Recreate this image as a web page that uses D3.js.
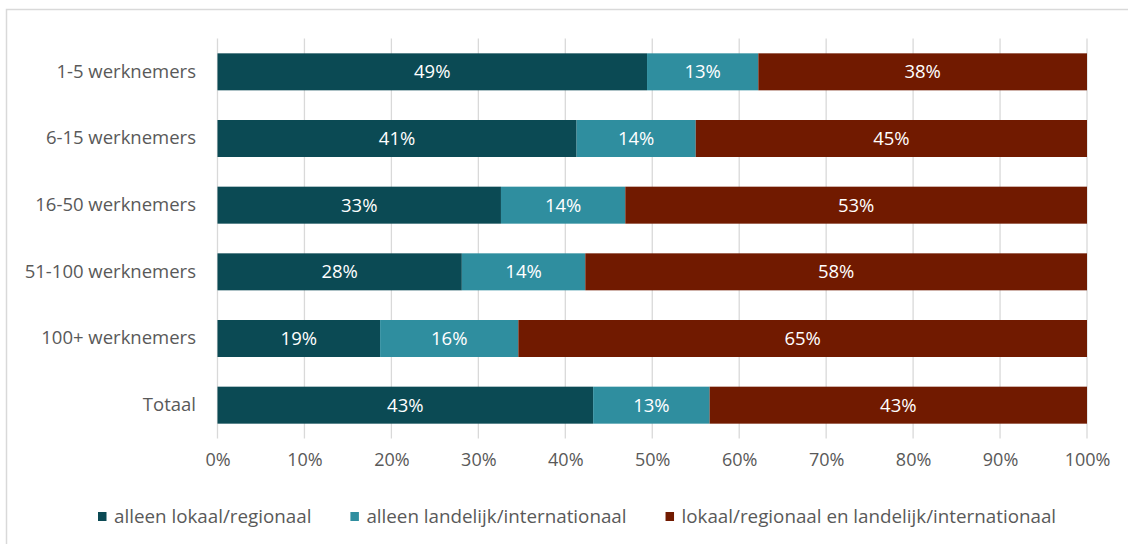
<!DOCTYPE html>
<html lang="nl">
<head>
<meta charset="utf-8">
<script src="https://cdn.jsdelivr.net/npm/d3@7"></script>
<style>
  html, body { margin: 0; padding: 0; background: #fff; }
  svg { display: block; font-family: "Open Sans", "Noto Sans", sans-serif; }
</style>
</head>
<body>
<svg id="chart" width="1128" height="544"></svg>
<script>
// Bedrijfsgrootte (aantal werknemers)
const categories = ["1-5 werknemers", "6-15 werknemers", "16-50 werknemers", "51-100 werknemers", "100+ werknemers", "Totaal"];

// Afzetmarkt, aandeel in procenten per categorie
const seriesNames = ["alleen lokaal/regionaal", "alleen landelijk/internationaal", "lokaal/regionaal en landelijk/internationaal"];
const lokaal      = [49.4, 41.3, 32.6, 28.1, 18.7, 43.2];
const landelijk   = [12.8, 13.7, 14.3, 14.2, 15.9, 13.4];
const beide       = [37.8, 45.0, 53.1, 57.7, 65.4, 43.4];

const tickValues = [0, 10, 20, 30, 40, 50, 60, 70, 80, 90, 100];
const colors = ["#0b4a54", "#2f8e9f", "#711a00"];

const rows = categories.map((c, i) => ({
  cat: c,
  [seriesNames[0]]: lokaal[i],
  [seriesNames[1]]: landelijk[i],
  [seriesNames[2]]: beide[i]
}));

const svg = d3.select("#chart");
const textColor = "#595959";
const fontSize = 18.5;

// Chart frame
svg.append("rect")
  .attr("x", 6.5).attr("y", 9.5)
  .attr("width", 1140).attr("height", 560)
  .attr("fill", "none")
  .attr("stroke", "#d9d9d9")
  .attr("stroke-width", 1.5);

const x = d3.scaleLinear().domain([0, 100]).range([217.5, 1087]);
const y = d3.scaleBand().domain(categories).range([38.5, 438.5]).paddingInner(0.445).paddingOuter(0.2225);

// Vertical gridlines
svg.append("g")
  .selectAll("line")
  .data(tickValues)
  .join("line")
  .attr("x1", d => x(d)).attr("x2", d => x(d))
  .attr("y1", y.range()[0]).attr("y2", y.range()[1])
  .attr("stroke", "#d9d9d9")
  .attr("stroke-width", 1.3);

// Stacked bars
const stack = d3.stack().keys(seriesNames)(rows);
const color = d3.scaleOrdinal().domain(seriesNames).range(colors);
const pct = d3.format(".0f");

const layers = svg.append("g")
  .selectAll("g")
  .data(stack)
  .join("g")
  .attr("fill", d => color(d.key));

layers.selectAll("rect")
  .data(d => d)
  .join("rect")
  .attr("x", d => x(d[0]))
  .attr("y", d => y(d.data.cat))
  .attr("width", d => x(d[1]) - x(d[0]))
  .attr("height", y.bandwidth());

// Value labels inside the segments
const labels = svg.append("g");
stack.forEach(layer => {
  labels.selectAll(null)
    .data(layer)
    .join("text")
    .attr("x", d => (x(d[0]) + x(d[1])) / 2)
    .attr("y", d => y(d.data.cat) + y.bandwidth() / 2)
    .attr("dy", "0.35em")
    .attr("text-anchor", "middle")
    .attr("fill", "#ffffff")
    .attr("font-size", fontSize)
    .text(d => pct(d[1] - d[0]) + "%");
});

// Category axis (left)
const yAxis = svg.append("g")
  .attr("transform", "translate(196,0)")
  .call(d3.axisLeft(y).tickSize(0).tickPadding(0));
yAxis.select(".domain").remove();
yAxis.selectAll("text")
  .attr("fill", textColor)
  .attr("font-size", fontSize)
  .attr("font-family", "Open Sans, Noto Sans, sans-serif");

// Percentage axis (bottom)
const xAxis = svg.append("g")
  .attr("transform", "translate(0,448)")
  .call(d3.axisBottom(x).tickValues(tickValues).tickFormat(d => d + "%").tickSize(0).tickPadding(0));
xAxis.select(".domain").remove();
xAxis.selectAll("text")
  .attr("fill", textColor)
  .attr("font-size", 18)
  .attr("dy", "1.0em")
  .attr("font-family", "Open Sans, Noto Sans, sans-serif");

// Legend
const legend = svg.append("g");
let lx = 98;
seriesNames.forEach((name, i) => {
  const item = legend.append("g");
  item.append("rect")
    .attr("x", lx).attr("y", 512)
    .attr("width", 8.5).attr("height", 9)
    .attr("fill", colors[i]);
  const t = item.append("text")
    .attr("x", lx + 16)
    .attr("y", 516.5)
    .attr("dy", "0.35em")
    .attr("fill", textColor)
    .attr("font-size", 18.8)
    .text(name);
  lx = lx + 16 + t.node().getComputedTextLength() + 39;
});
</script>
</body>
</html>
